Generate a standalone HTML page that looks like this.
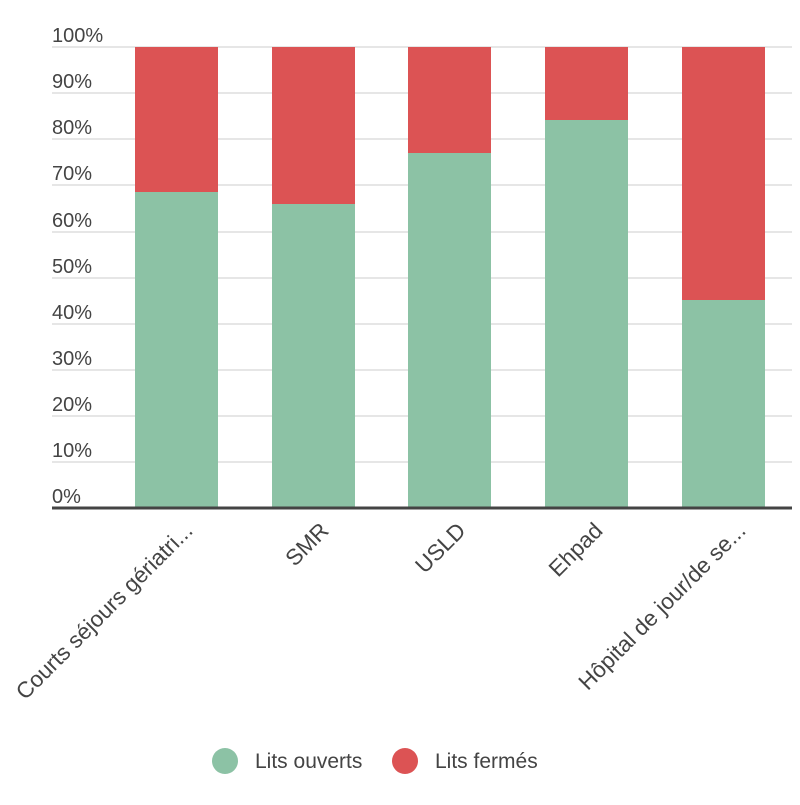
<!DOCTYPE html>
<html><head><meta charset="utf-8"><style>body{margin:0;background:#fff}</style></head><body>
<svg width="800" height="800" xmlns="http://www.w3.org/2000/svg" font-family="Liberation Sans, sans-serif">
<g stroke="#dddddd" stroke-width="1.5">
<line x1="52" x2="792" y1="47" y2="47"/><line x1="52" x2="792" y1="93" y2="93"/><line x1="52" x2="792" y1="139" y2="139"/><line x1="52" x2="792" y1="185" y2="185"/><line x1="52" x2="792" y1="232" y2="232"/><line x1="52" x2="792" y1="278" y2="278"/><line x1="52" x2="792" y1="324" y2="324"/><line x1="52" x2="792" y1="370" y2="370"/><line x1="52" x2="792" y1="416" y2="416"/><line x1="52" x2="792" y1="462" y2="462"/>
</g>
<g font-size="20" fill="#444">
<text x="52" y="42">100%</text><text x="52" y="88">90%</text><text x="52" y="134">80%</text><text x="52" y="180">70%</text><text x="52" y="227">60%</text><text x="52" y="273">50%</text><text x="52" y="319">40%</text><text x="52" y="365">30%</text><text x="52" y="411">20%</text><text x="52" y="457">10%</text><text x="52" y="503">0%</text>
</g>
<g>
<rect x="135" y="47" width="83" height="145" fill="#dc5354"/><rect x="135" y="192" width="83" height="316" fill="#8cc2a5"/>
<rect x="272" y="47" width="83" height="157" fill="#dc5354"/><rect x="272" y="204" width="83" height="304" fill="#8cc2a5"/>
<rect x="408" y="47" width="83" height="106" fill="#dc5354"/><rect x="408" y="153" width="83" height="355" fill="#8cc2a5"/>
<rect x="545" y="47" width="83" height="73" fill="#dc5354"/><rect x="545" y="120" width="83" height="388" fill="#8cc2a5"/>
<rect x="682" y="47" width="83" height="253" fill="#dc5354"/><rect x="682" y="300" width="83" height="208" fill="#8cc2a5"/>
</g>
<line x1="52" x2="792" y1="508" y2="508" stroke="#444" stroke-width="3"/>
<g font-size="22.5" fill="#444" text-anchor="end">
<text transform="translate(194,532) rotate(-45)">Courts séjours gériatri...</text>
<text transform="translate(330,532) rotate(-45)">SMR</text>
<text transform="translate(467,532) rotate(-45)">USLD</text>
<text transform="translate(604,532) rotate(-45)">Ehpad</text>
<text transform="translate(747,532) rotate(-45)">Hôpital de jour/de se...</text>
</g>
<circle cx="225" cy="761" r="13" fill="#8cc2a5"/>
<text x="255" y="768" font-size="21" fill="#444">Lits ouverts</text>
<circle cx="405" cy="761" r="13" fill="#dc5354"/>
<text x="435" y="768" font-size="21" fill="#444">Lits fermés</text>
</svg>
</body></html>
